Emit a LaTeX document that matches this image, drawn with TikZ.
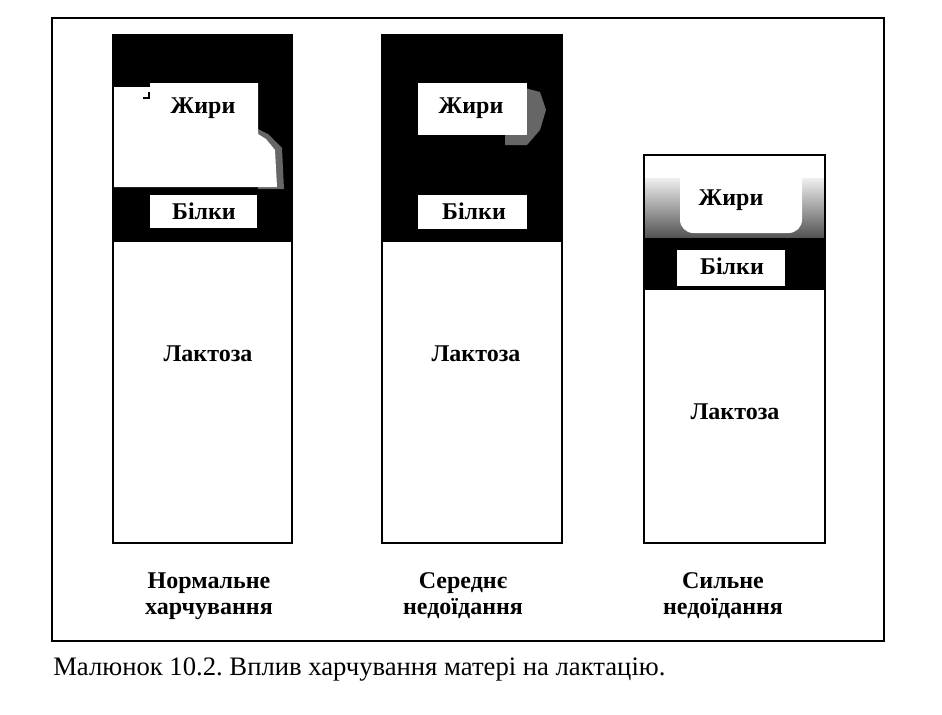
\documentclass[tikz,border=0pt]{standalone}
\usepackage{fontspec}
\setmainfont{Liberation Serif}
\frenchspacing
\begin{document}
\begin{tikzpicture}[x=0.75pt,y=-0.75pt,
  lbl/.style={font=\fontsize{18}{20}\selectfont\bfseries, inner sep=0pt, anchor=base},
  captiontext/.style={font=\fontsize{20}{22}\selectfont, inner sep=0pt, anchor=base west},
  barline/.style={draw=black, line width=1.5pt},
  darkfill/.style={fill=black},
  graydither/.style={fill=black!60},
  whitebox/.style={fill=white}]
\useasboundingbox (0,0) rectangle (942,714);
\fill[white] (0,0) rectangle (942,714);
% outer frame
\draw[line width=1.8pt] (52,18) rectangle (884,641);

% ---------- Bar 1 ----------
\fill[darkfill] (113,35) rectangle (292,242);
\fill[graydither] (256,128) -- (268,134) -- (282,148) -- (284,189) -- (258,189) -- cycle;
\fill[whitebox] (113,87) -- (150,87) -- (150,83) -- (258,83) -- (258,134) -- (266,139) -- (275,150) -- (277,187) -- (113,187) -- cycle;
\fill[whitebox] (150,195) rectangle (257,228);
\draw[black, line width=0.8pt] (143,98) -- (149,98) -- (149,92);
\draw[barline] (113,35) rectangle (292,543);
\node[lbl] (z1) at (203,113) {Жири};
\node[lbl] (b1) at (204,219) {Білки};
\node[lbl] (l1) at (208,361) {Лактоза};

% ---------- Bar 2 ----------
\fill[darkfill] (382,35) rectangle (562,242);
\fill[graydither] (525,88) -- (540,92) -- (546,110) -- (540,130) -- (527,145) -- (505,145) -- (505,135) -- cycle;
\fill[whitebox] (418,83) rectangle (527,135);
\fill[whitebox] (418,195) rectangle (527,229);
\draw[barline] (382,35) rectangle (562,543);
\node[lbl] (z2) at (471,113) {Жири};
\node[lbl] (b2) at (474,219) {Білки};
\node[lbl] (l2) at (476,361) {Лактоза};

% ---------- Bar 3 ----------
\shade[top color=white, bottom color=black!70] (644,172) rectangle (825,240);
\fill[whitebox, rounded corners=10pt] (680,150) rectangle (802,233);
\fill[whitebox] (644,155) rectangle (825,178);
\fill[darkfill] (644,238) rectangle (825,290);
\fill[whitebox] (677,250) rectangle (785,286);
\draw[barline] (644,155) rectangle (825,543);
\node[lbl] (z3) at (731,205) {Жири};
\node[lbl] (b3) at (732,274) {Білки};
\node[lbl] (l3) at (735,419) {Лактоза};

% ---------- bottom labels ----------
\node[lbl] (n1a) at (209,588) {Нормальне};
\node[lbl] (n1b) at (209,614) {харчування};
\node[lbl] (n2a) at (463,588) {Середнє};
\node[lbl] (n2b) at (463,614) {недоїдання};
\node[lbl] (n3a) at (723,588) {Сильне};
\node[lbl] (n3b) at (723,614) {недоїдання};

% ---------- caption ----------
\node[captiontext] (caption) at (53,675) {Малюнок 10.2. Вплив харчування матері на лактацію.};
\end{tikzpicture}
\end{document}
